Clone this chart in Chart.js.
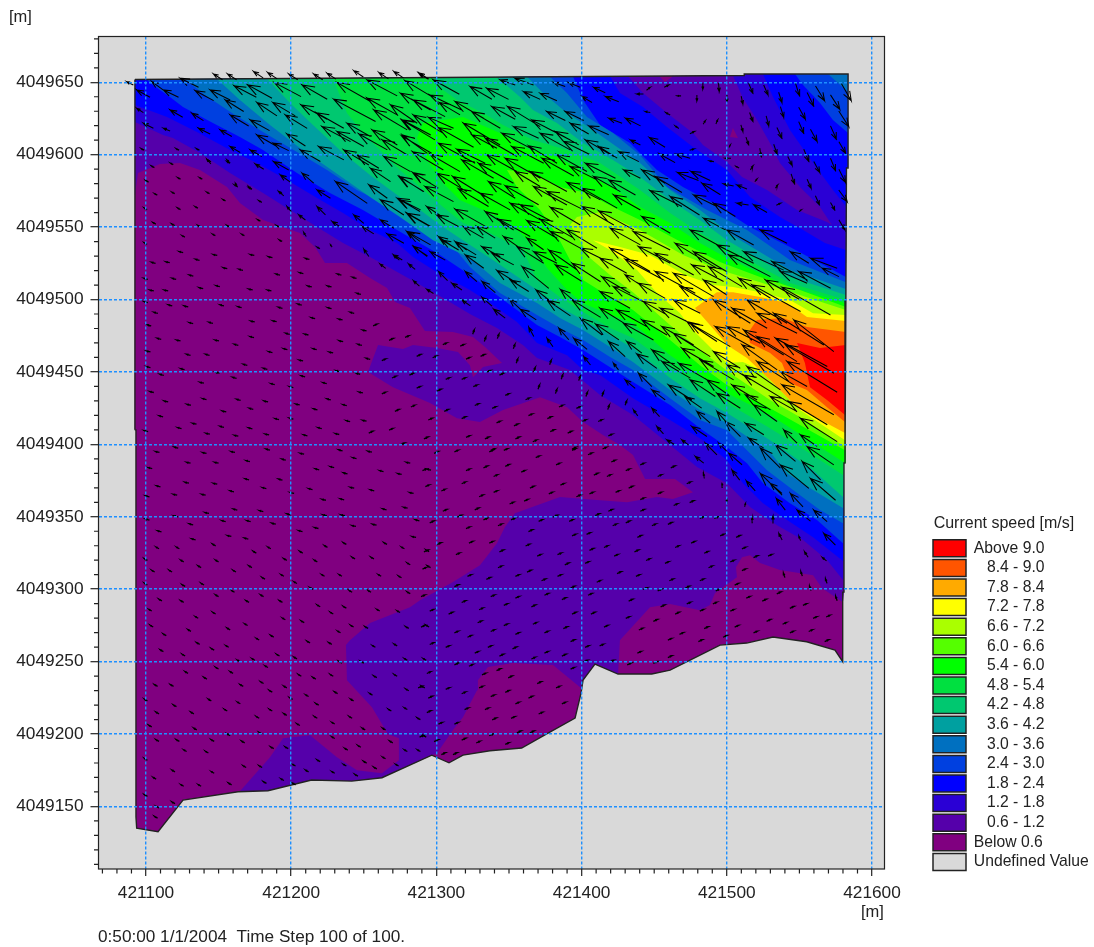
<!DOCTYPE html>
<html><head><meta charset="utf-8">
<style>html,body{margin:0;padding:0;background:#fff}canvas{display:block;filter:blur(.35px)}</style>
<script src="https://cdn.jsdelivr.net/npm/chart.js@4"></script>
</head><body><canvas id="c" width="1094" height="947"></canvas>
<script>
// All coordinates are metres, offset from these two bases
const eastBase = 421000, northBase = 4049000;
const xTickLabels = [421100,421200,421300,421400,421500,421600];
const yTickLabels = [4049150,4049200,4049250,4049300,4049350,4049400,4049450,4049500,4049550,4049600,4049650];
const legendTitle = 'Current speed [m/s]';
const bandLabels = ['Above 9.0','8.4 - 9.0','7.8 - 8.4','7.2 - 7.8','6.6 - 7.2','6.0 - 6.6','5.4 - 6.0','4.8 - 5.4','4.2 - 4.8','3.6 - 4.2','3.0 - 3.6','2.4 - 3.0','1.8 - 2.4','1.2 - 1.8','0.6 - 1.2','Below 0.6'];
const bandColors = ['#ff0000','#ff5500','#ffaa00','#ffff00','#aaff00','#55ff00','#00ff00','#00e040','#00c870','#00a0a0','#0070c0','#0040e0','#0000ff','#2a00d5','#5500aa','#800080'];
const undefinedLabel = 'Undefined Value', undefinedColor = '#d9d9d9';

const domain = [92.4,651.9, 512,654.7, 512,655.7, 583.5,655.7, 583.5,590.8, 582.4,590.8, 582,499.7, 581.4,387.1, 580.7,387.1, 580.7,298, 579.8,298, 579.8,249.9, 574.5,258, 555,263.7, 531.8,267, 513.7,262.8, 495.3,261.4, 474.7,251, 460.9,244.1, 448.3,241.4, 425.1,241.4, 409.2,248.3, 401,237.2, 399.6,228.2, 395.5,211, 376.9,200.6, 358.7,190.3, 336.9,188.4, 318.3,185.4, 308.7,180.1, 296.8,185.4, 262.5,169.8, 241.7,167.5, 214.1,168.2, 184,160.8, 163.4,160.1, 125.5,154.4, 108.3,132.5, 93.6,135, 93.1,142.8, 93.1,410, 92.2,410];

const level06 = [92.4,572.1, 94.5,587.3, 109.6,593.5, 123.4,594.2, 137.2,589.4, 155.8,577.7, 164.7,566.6, 180.6,554.9, 206,545.9, 216.4,536.2, 223.3,525.2, 238.4,525.2, 254.3,514.8, 266,507.9, 271.5,498.2, 281.8,494.1, 292.1,478.2, 311.4,477.5, 325.2,474.1, 333.5,467.2, 345.2,456.1, 332.1,453.4, 325.2,446.4, 323.1,454.7, 314.9,463.7, 300.4,466.5, 283.9,468.6, 277,465.8, 259.8,468.6, 252.9,449.9, 270.1,439.5, 295.6,428.5, 314.2,418.1, 330,415.4, 345.9,423.7, 371.4,432.6, 390,425.7, 401,415.4, 414.7,406.4, 426.4,399.5, 435.4,392.6, 443.7,376, 464.3,376, 476.7,367, 462.9,362.2, 451.9,363.6, 431.3,360.1, 410.6,361.5, 385.1,363.6, 354.1,352.5, 347.2,342.9, 341.7,331.8, 330,316.6, 311.4,304.9, 288.7,292.4, 281.8,287.6, 254.3,276.6, 240.5,264.8, 237.7,261.4, 238.4,237.2, 255.6,218.5, 266.7,199.9, 274.2,197.1, 274.2,181.9, 262.5,172.9, 245.3,175, 231.5,184, 213,199.2, 194.4,197.1, 185.4,184, 164.7,160.5, 184,160.8, 214.1,168.2, 241.7,167.5, 262.5,169.8, 296.8,185.4, 300.4,186.8, 311.4,202.7, 318.3,211.6, 328,230.3, 328.6,237.2, 335.5,246.2, 352.8,249, 380.3,247.6, 387.2,242, 399.6,231.7, 401,237.2, 409.2,248.3, 425.1,241.4, 426.4,264.8, 447.1,287.6, 460.9,289.7, 481.5,285.5, 488.4,289, 491.9,297.3, 507,308.3, 506.3,315.2, 510.5,322.1, 516,323.5, 522.9,318, 536.6,313.2, 559.4,309.7, 565.6,300.7, 580,291, 580.7,298, 580.7,387.1, 581.4,387.1, 582,499.7, 582.4,590.8, 583.5,590.8, 583.5,655.7, 512,655.7, 512,654.7, 504.2,654.6, 504.2,618.4, 507.7,611.5, 502.2,612.2, 504.2,618.4, 504.2,654.6, 462.3,654.3, 462.3,653.6, 457.4,650.2, 454,653.6, 454,654.3, 92.4,651.9];
const level12 = [92.4,622.5, 111.7,613.6, 118.6,611.5, 137.2,601.1, 157.9,587.3, 180.6,573.5, 199.2,561.8, 217.8,550, 235.7,539, 254.3,529.3, 268.1,521.7, 286.6,511.4, 304.6,501, 323.1,490, 341.7,480.3, 359.6,468.6, 369.3,459.6, 392,451.3, 412.7,434, 435.4,420.2, 460.9,399.5, 479.5,384.3, 500.1,373.2, 516,356.7, 534.6,344.2, 552.5,333.9, 569,320.1, 580,306.3, 580.7,387.1, 581.4,387.1, 582,499.7, 582.4,590.8, 583.5,590.8, 583.5,655.7, 512,655.7, 512,654.7, 504.2,654.6, 511.1,639.1, 520.8,624, 529.7,608, 536.6,594.2, 550.4,577.7, 564.2,563.8, 572.4,551.4, 569,553.5, 548.4,561.8, 527.7,575.6, 510.5,584.6, 500.1,594.9, 483.6,606.7, 476.7,615, 458.8,628.8, 442.3,642.6, 431.9,654.2, 92.4,651.9];
const level18 = [92.4,634.3, 114.5,626, 135.1,615.6, 157.9,603.2, 176.5,594.2, 197.1,582.5, 217.8,570.1, 235.7,559.7, 254.3,548, 272.9,539, 283.9,529.3, 300.4,518.9, 323.1,506.5, 336.9,497.6, 355.5,484.4, 369.3,469.9, 390,461.6, 401,451.3, 412.7,447.8, 435.4,431.9, 460.9,416.8, 483.6,402.9, 500.1,389.1, 511.1,373.2, 524.9,359.4, 541.5,347.7, 559.4,335.9, 580,319.4, 580.7,387.1, 581.4,387.1, 582,499.7, 582,534.2, 567.6,539, 552.5,548, 536.6,556.9, 516,570.8, 500.1,589.4, 476.7,605.3, 458.8,619.1, 442.3,632.9, 426.4,642.6, 419.5,654.1, 92.4,651.9];
const level18North = [524.9,655.7, 531.8,639.8, 543.5,617, 559.4,594.2, 573.1,575.6, 582.4,563.8, 582.4,590.8, 583.5,590.8, 583.5,655.7];
const level24 = [100.7,652, 102.8,649.5, 116.5,639.8, 125.5,632.9, 146.1,621.9, 164.7,612.2, 180.6,603.2, 204,587.3, 226.7,573.5, 249.4,561.8, 272.9,548, 300.4,532.1, 323.1,516.9, 339,505.1, 355.5,492.7, 369.3,482.4, 385.1,474.1, 401,465.1, 419.6,453.3, 435.4,443, 460.9,427.1, 481.5,411.2, 500.1,398.1, 513.9,387, 524.9,373.2, 543.5,359.4, 562.1,347.7, 580,331.8, 580.7,387.1, 581.4,387.1, 582,499.7, 582,515.5, 543.5,536.2, 516,550, 490.5,566.6, 469.8,577.7, 451.9,589.4, 433.3,608, 412.7,620.5, 401,637.7, 394.1,654];
const level24North = [547,655.7, 552.5,648.1, 564.2,635.7, 573.1,623.9, 583.5,615, 583.5,655.7];
const level30 = [126.9,652.2, 140.6,641.2, 161.3,627.4, 180.6,615.6, 204,601.8, 224.7,589.4, 245.3,575.6, 263.2,566.6, 286.6,552.8, 309.4,539, 323.1,522.4, 343.8,504.5, 369.3,489.3, 385.1,480.3, 401,472, 419.6,460.3, 435.4,451.3, 460.9,431.9, 481.5,416.8, 500.1,409.8, 527.7,382.2, 545.6,368.4, 564.2,354.6, 580,345.6, 580.7,387.1, 581.4,387.1, 582,499.7, 582,512, 543.5,527.2, 513.9,548, 486.4,561.8, 458.8,577.7, 440.2,599.8, 421.6,615, 403.7,626, 389.9,642.6, 378.2,653.8];
const level30North = [569.7,655.7, 583.5,643.3, 583.5,655.7];
const level36 = [148.9,652.3, 164.7,637.7, 185.4,620.5, 206,604.6, 235.7,583.9, 254.3,570.8, 274.9,556.9, 297.7,541, 323.1,528.6, 343.8,511.4, 369.3,497.6, 385.1,487.2, 401,478.9, 419.6,467.2, 435.4,456.8, 460.9,437.5, 481.5,423.7, 500.1,414.7, 529.8,394.7, 541.5,380.1, 559.4,368.4, 580,356, 580.7,387.1, 581.4,387.1, 582,499.7, 582,507.2, 543.5,520.3, 505.6,543.1, 481.5,561.8, 460.9,575.6, 440.2,594.2, 424.4,605.3, 407.9,617, 389.9,628.8, 373.4,642.6, 362.4,653.8];
const level42 = [183.3,652.6, 199.2,635.7, 215,620.5, 235.7,601.1, 254.3,586, 274.9,570.8, 288.7,561.8, 304.6,550, 321.1,539, 336.9,528.6, 354.1,516.9, 369.3,506.5, 385.1,494.8, 401,485.8, 419.6,475.5, 435.4,466.5, 460.9,445.8, 481.5,431.9, 500.1,421.6, 529.8,402.9, 559.4,382.2, 580,363.6, 580.7,387.1, 581.4,387.1, 582,499.7, 582,503.1, 543.5,515.5, 500.1,541, 481.5,554.9, 460.9,568.7, 440.2,584.6, 421.6,596.3, 401,608, 383,621.9, 366.5,630.8, 357.6,639.8, 341.7,653.6];
const level48 = [228.8,652.8, 238.4,628.8, 249.4,615, 274.9,589.4, 288.7,577.7, 304.6,563.8, 318.3,552.8, 336.9,545.9, 359.6,534.2, 369.3,513.4, 385.1,501.7, 401,491.3, 419.6,480.3, 435.4,473.4, 460.9,454.7, 481.5,439.5, 500.1,428.5, 529.8,411.2, 550.4,398.1, 580,378.8, 580.7,387.1, 581.4,387.1, 582,499.6, 543.5,511.4, 500.1,535.5, 481.5,545.9, 460.9,559.7, 440.2,575.6, 412.7,594.2, 389.9,603.2, 366.5,610.1, 345.9,620.5, 332.1,628.8, 314.2,637.7, 304.6,644.6, 297,653.3];
const level54 = [286.6,611.5, 293.5,596.3, 304.6,580.4, 316.2,568.7, 332.1,561.8, 350.7,552.8, 366.5,537.6, 376.2,521.7, 390,506.5, 401,497.6, 419.6,489.3, 435.4,483.7, 460.9,461.6, 481.5,447.8, 500.1,435.4, 529.8,420.2, 581.4,387.1, 582,497.5, 543.5,508.6, 500.1,528.6, 481.5,539, 460.9,552.8, 440.2,563.8, 421.6,577, 398.9,589.4, 383,598.4, 364.5,603.2, 343.8,615, 318.3,626, 290.8,621.9];
const level60 = [348.6,589.4, 355.5,577.7, 371.4,561.8, 383,544.5, 392,527.2, 401,513.4, 419.6,501.7, 435.4,492.7, 460.9,472, 481.5,454.7, 500.1,440.9, 529.8,425, 550.4,413.3, 581.4,396, 582,494.8, 550.4,506.5, 522.9,515.5, 495.3,525.9, 469.8,539, 440.2,554.9, 421.6,563.8, 403.7,573.5, 385.1,577.7, 366.5,587.3];
const level66 = [392,551.4, 396.8,544.5, 405.8,528.6, 419.6,516.9, 435.4,505.1, 460.9,482.4, 481.5,465.1, 502.2,449.2, 529.8,430.6, 553.9,416.8, 581.4,398.1, 582,492.7, 550.4,503.1, 522.9,512, 495.3,520.3, 469.8,530.7, 440.2,548, 412.7,560.4, 396.8,556.9];
const level72 = [407.8,541, 419.6,534.2, 438.2,520.3, 451.9,504.5, 467.8,490.6, 474.6,481, 490.5,465.1, 500.1,456.1, 511.1,456.8, 522.9,451.3, 536.6,437.5, 550.4,423.7, 581.4,402.9, 582,489.3, 559.4,490.6, 543.5,499.6, 522.9,505.1, 504.3,508.6, 490.5,510, 471.2,516.9, 447.1,530.7, 426.4,536.2];
const level78 = [478.1,494.1, 493.2,505.1, 504.3,505.1, 522.9,501.7, 541.5,497.6, 555.2,487.9, 582,485.1, 581.4,407.8, 548.3,425.7, 529.8,444.4, 513.9,459.6, 500.1,468.6, 497.4,472];
const level84 = [517.4,481, 520.8,485.8, 538.7,487.2, 555.2,481, 582,477.5, 581.4,415.4, 569,425.7, 555.2,437.5, 543.5,442.3, 538,456.1, 529.8,463, 516,469.9, 514.6,476.8];
const level90 = [548.4,469.9, 564.2,466.5, 582,468.6, 581.4,420.2, 569,430.6, 557.3,439.5, 555.2,449.2, 553.8,456.1];
const bandRings = [[level90],[level84],[level78],[level72],[level66],[level60],[level54],[level48],[level42],[level36],[level30,level30North],[level24,level24North],[level18,level18North],[level12],[level06],[domain]];

// Large arrows: head east, head north, east component, north component (m)
const arrowsNorthWest = [86.7,650.4,-4.6,2.3, 146.5,655.7,-6.2,4, 156.2,655.7,-6.2,4, 174.1,657.4,-6.6,4.4, 183.8,656.7,-6.6,4.4, 198.3,655.7,-6.2,4, 215.5,655.7,-6.2,4, 224.7,656.2,-6.2,4, 243.1,658,-6.6,4.4, 260.4,656.7,-6.6,4.4, 270.7,657.4,-6.6,4.4, 288.6,656.2,-6.2,4,
93.6,644.7,-9.2,5.1, 104,650.4,-8,5.8, 112,644.7,-10.4,5.1, 123.5,652.8,-12.7,6.2, 93.6,632,-4.6,3, 116.6,630.9,-8.7,5.1, 131.6,628.6,-8,5.1, 133.9,644.2,-12.7,6.9, 144.2,644.7,-13.8,6.9, 154.6,637.8,-12.7,8, 160.8,647.5,-15.2,7.8, 170,648.2,-16.8,9.2, 188.4,649.8,-18.4,9.7, 207.5,648.2,-17.3,9.9, 98.2,621.7,-6.9,3.5, 112,618.2,-4.6,1.8, 136.2,618.2,-8,3.9, 151.1,617.1,-8,4.6, 158,627.4,-12.7,7.6, 171.8,624,-13.3,7.4, 176.4,636,-13.8,9.2, 187.4,636,-15.4,9.2, 206.8,634.4,-17.9,9.9, 217.3,629,-18.9,10.8, 229.3,638.3,-28.8,15.4, 252.3,639,-20.7,11.5, 231.6,649.8,-23,13.1, 252.3,651.6,-20.7,11, 275.3,642.4,-20.7,11.5, 158,605.6,-6.9,4.1, 171.8,603.3,-8,4.6, 176.4,613.6,-13.8,8, 187.9,607.9,-10.4,5.1, 197.1,614.3,-12.7,8.3, 196,627.4,-15,9.2, 221.3,619.4,-19.6,10.4, 231.6,616,-18.4,10.4, 246.6,614.3,-19.6,11, 255.8,617.1,-17.3,10.4, 256.9,630.9,-23,13.8, 268.4,634.4,-18.4,12.7, 276.5,624,-19.6,10.4, 276.5,613.6,-17.3,12.7, 238.5,621.7,-16.1,9.2, 219,605.6,-17.3,9.2, 206.3,603.3,-13.8,8, 236.2,603.3,-17.3,10.4, 245.4,599.8,-15,9.2, 262.7,610.2,-17.3,10.4, 254.6,590.6,-13.8,9.2, 263.8,598.7,-18.4,10.4, 274.2,584.9,-17.3,10.4, 284.5,587.2,-11.5,6.9, 187.9,595.2,-10.4,5.8, 175.3,593.6,-5.8,3.7, 155.7,596.4,-2.3,2.3, 141.9,596.9,-2.8,3.2, 161.5,580.3,-1.6,2.8, 170.7,578,-2.3,1.8, 192.5,586,-7.4,5.3, 207.5,587.2,-8,6.9, 217.8,575.7,-9.2,5.8, 230.5,581.4,-21.9,15, 261.5,568.8,-16.1,10.4, 253.5,579.1,-12.7,9.2, 273,569.9,-16.1,8, 279.9,559.6,-16.1,9.2, 191.4,574.6,-3.5,3, 197.1,564.2,-3,3.5, 217.8,564.2,-5.8,5.8, 205.2,558.4,-4.6,3.5, 243.1,558.4,-6.9,5.8, 248.9,550.4,-8,5.1, 228.2,553.9,-6.9,4.6, 261.5,555,-9.2,5.8, 266.1,545.3,-11.5,6.4, 279.9,546.9,-16.1,9.2, 284.5,536.6,-9.2,6.9, 250,534.8,-3.5,5.1, 270.7,530.8,-5.8,3.5, 208.6,546.3,-1.8,2.8, 227,537.8,-1.2,1.6];
const arrowsNorthCentre = [287.6,656.6,-6.6,4.4, 278.4,651.1,-18.4,11, 297.9,651.6,-17.9,9.9, 295.6,641.2,-21.9,10.4, 323.2,647,-15,8.7, 334.7,645.8,-15,7.6, 343.9,651.6,-10.4,3.5, 354.2,652.7,-12.7,4.6, 380.7,649.8,-8,2.8, 391,649.8,-8,3.2, 360,643.5,-11.5,5.3, 371.5,642.4,-11.5,5.1, 312.9,636.7,-19.6,11.5, 324.4,629.7,-19.6,11.5, 338.2,633.2,-16.1,8.7, 349,633.2,-22.5,13.8, 365.7,624,-26.5,13.8, 302,636,-14.3,8.5, 284.1,637.8,-21.9,11.5, 376.1,629.8,-12.7,6.2, 388.8,629.8,-12.7,6.2, 392.2,621.7,-12.7,7.4, 404.9,619.9,-13.8,6.2, 408.3,646.5,-8,3.7, 416.4,640.1,-9.2,3.5, 418.7,625.2,-9.2,3.5, 430.2,625.2,-10.4,5.3, 400.3,640.1,-6.9,4.1, 318.6,621.7,-25.3,15, 294.5,625.8,-17.3,7.6, 284.1,627.4,-20.7,12.7, 276,624,-23,13.8, 301.4,618.7,-24.2,13.6, 324.4,613.7,-17.3,9.2, 333.6,611.4,-21.9,12.7, 345.1,614.8,-21.9,11.5, 353.1,619.4,-17.3,8, 371.5,614.8,-20.7,11.5, 381.9,616,-16.1,9.2, 387.6,609.1,-18.4,9.2, 402.6,610.2,-19.6,11.5, 411.8,605.6,-12.7,8, 433.6,610.2,-6.9,3.5, 425.6,602.1,-13.8,6.9, 276,613,-20.7,12, 283.6,602.1,-21.2,12.7, 301.4,607.9,-25.3,13.8, 314,603.8,-19.6,9.7, 295.6,600.3,-20.7,12, 317.5,596.4,-21.9,12.7, 328.9,594.1,-24.2,13.8, 334.7,599.9,-20.7,11.5, 347.4,597.5,-24.2,13.8, 352,605.6,-21.9,11.5, 363.5,606.1,-19.6,12, 383,599.9,-20.7,11.5, 372.7,597.5,-21.9,12.2, 392.2,591.8,-18.4,9.2, 402.6,594.1,-20.7,10.4, 408.3,584.9,-18.4,10.4, 418.7,582.6,-18.4,10.4, 429,589.5,-11.5,5.8, 274.9,584.9,-16.1,10.4, 283.6,587.7,-17.7,10.8, 300.2,587.2,-20.7,12.7, 311.2,584.9,-22.3,13.8, 292.2,578,-19.6,10.4, 315.2,576.4,-20.7,12.2, 330.1,573.4,-20.7,11.5, 335.9,581.4,-18.4,11.5, 354.2,588.4,-17.3,10.4, 364.6,588.4,-25.3,13.8, 347.4,578.5,-23,13.1, 366.9,578,-23,12.7, 376.1,574.6,-25.3,12.7, 389.9,580.8,-23,12, 400.3,576.9,-24.2,13.8, 422.1,572.2,-18.4,10.4, 350.8,566.5,-20.7,11.5, 357.7,565.4,-21.9,11.5, 378.4,563.7,-20.7,12.2, 400.3,564.2,-21.9,12.7, 411.8,561.2,-24.2,13.1, 274.9,568.8,-13.8,8, 293.3,564.2,-10.4,6.9, 300.2,558.4,-15,8, 312.9,562.4,-23,13.1, 333.6,560.7,-19.6,12.7, 342.7,555.5,-21.9,12, 362.3,554.5,-20.7,12.2, 371.5,555.5,-23,13.1, 378.4,547,-20.7,11.5, 389.9,548.1,-20.7,12.7, 419.8,549.2,-20.7,11.5, 279.5,559.6,-16.1,9.2, 318.6,550.4,-13.8,8, 327.8,550.4,-12.7,8, 279.5,547,-9.2,6.9, 301.4,543.5,-11.5,8, 312.9,540,-8,5.8, 346.2,543.5,-11.5,8, 362.3,542.4,-11.5,8];
const arrowsCentre = [270.4,530.7,-4.1,3.5, 261.2,524.5,-3.9,3, 280.8,524.5,-4.6,3.7, 284.2,536.5,-9.7,6.4, 295.7,533,-10.4,5.8, 303.8,541.1,-11.5,6.9, 313.6,539.3,-13.8,8.5, 319.9,530.8,-12.7,9.2, 331.3,536.5,-12.7,6.9, 338.3,531.9,-15,8, 355.5,536.5,-18.4,11.5, 367,533,-16.1,8, 377.4,534.2,-19.6,13.8, 359,522.7,-18.4,15, 381.9,523.9,-18.4,11.5, 393.5,525,-19.6,12.7, 399.2,535.4,-16.1,8, 301.5,519.3,-6.2,6.2, 319.9,519.3,-8,6.9, 341.7,520,-13.8,8.7, 350.9,513.5,-12.7,8, 284.2,513,-4.1,3.7, 310.7,511.2,-6.9,4.6, 331.4,512.4,-9.2,7.6, 293.4,507,-4.6,2.8, 368.6,506.6,-13.3,10.4, 317.6,499.7,-5.8,4.1, 331.4,501.5,-6.9,6, 350.4,500.2,-8.5,7.8, 385.4,507,-11.5,9.7, 376.2,499.7,-16.1,11, 393.5,499.7,-19.6,12, 357.8,493.3,-11,7.4, 339.4,493.3,-8,6.2, 399.2,487,-15,11.5, 409.6,483.1,-16.1,11, 384.3,480.2,-6.9,8, 363.6,480.8,-3.5,6.4, 376.2,473.2,-4.1,5.8, 394.6,473.2,-9.2,7.6, 401.5,460.6,-4.6,5.8];
const arrowsRidge = [435.7,546.9,-25.3,12.7, 474.8,548,-25.3,13.8, 500.1,548,-18.4,10.4, 523.1,548,-18.4,9.2, 419.6,535.4,-27.6,16.1, 430,527.8,-26.5,14.3, 439.2,536.5,-21.9,11.5, 450.7,531.9,-26.5,15, 464.5,538.8,-28.8,17.3, 477.1,533,-23,13.8, 493.2,537.7,-25.3,12.7, 511.6,533,-27.6,12.7, 501.2,530.8,-28.8,15, 531.2,526.2,-24.2,12.7, 536.9,519.3,-18.4,8, 543.8,533,-12.7,8, 549.6,519.3,-21.9,11.5, 557.6,528.5,-18.4,6.9, 565.7,521.6,-11.5,5.8, 412.7,528.5,-18.4,10.4, 413.9,515.8,-19.6,11.5, 430,517,-10.4,6.9, 450.7,519.3,-27.6,15, 463.3,518.1,-27.6,16.1, 439.2,511.2,-18.4,10.4, 475.9,523.9,-21.9,11.5, 487.5,522.7,-23,13.8, 467.9,508.9,-18.4,10.4, 484,513.5,-16.1,10.4, 508.2,514.7,-21.9,13.8, 517.4,510.1,-33.4,18.4, 526.6,513.5,-24.2,13.8, 538,508.4,-33.4,19.1, 421.9,508.9,-20.7,10.4, 412.7,505.5,-20.7,11.5, 442.6,498.6,-16.1,9.2, 454.1,494,-18.4,9.2, 463.3,499.7,-18.4,9.2, 472.5,484.8,-20.7,13.8, 490.9,499.7,-25.3,16.1, 503.6,494,-24.2,13.8, 513.9,499.7,-27.6,16.1, 520.8,490.5,-27.6,13.8, 532.3,490.5,-34.5,21.9, 546.1,485.9,-27.6,21.9, 412.7,494,-18.4,11.5, 424.2,492.8,-20.7,11.5, 428.8,483.6,-20.7,11.5, 441.5,485.9,-17.3,10.4, 455.3,481.3,-21.9,12.7, 463.3,476.7,-25.3,16.1, 474.8,483.6,-27.6,16.1, 492,481.3,-26.5,15, 500.1,481.3,-23,11.5, 511.6,479,-27.6,17.3, 520.8,474.4,-27.6,17.3, 533.5,473.3,-35.7,19.6, 540.4,468.7,-33.4,19.6, 541.5,457.2,-34.5,21.2, 510.5,468.7,-24.2,17.3, 520.8,457.2,-25.3,16.1, 536.9,450.3,-18.4,10.4, 538,441.1,-35.7,20.7, 513.9,453.7,-23,16.1, 490.9,464,-18.4,11.5, 481.7,458.3,-23,13.8, 500.1,454.9,-16.1,10.4, 511.6,447.9,-32.2,19.6, 448.4,465.2,-19.6,13.8, 469,466.4,-21.9,12.7, 455.3,457.2,-19.6,11.5, 466.8,456,-19.6,11.5, 418.5,471,-11.5,10.4, 431.1,471,-10.4,8, 438,462.4,-13.8,9.9, 503.6,441,-17.3,10.4, 530,433,-18.4,10.4, 542.7,429.6,-26.5,16.1, 550.7,418,-25.3,16.1, 474.8,444.5,-17.3,11.5, 486.3,444.5,-15,10.4, 493.2,435.3,-16.1,10.4, 459.9,441,-16.1,10.4, 439.2,449.1,-9.2,9.2, 448.4,437.6,-9.2,6.9, 430,444.5,-6.9,5.8, 421.9,456,-3.5,4.6, 471.2,433,-11.5,8, 512.8,434.2,-17.3,10.4, 518.5,427.3,-16.1,11.5, 539.2,410,-9.2,9.2, 550.7,406.6,-11.5,8, 555.3,398.5,-18.4,12.7, 479.4,422.7,-9.2,8, 493.2,422.7,-9.2,10.4, 499,415.8,-10.4,10.4, 512.8,414.6,-12.7,8, 515,404.3,-10.4,6.9, 523.1,397.4,-13.8,13.8, 533.5,399.7,-13.8,11.5, 551.9,388.2,-12.7,12.7, 475.9,412.3,-10.4,6.9, 485.2,400.8,-8,8, 494.4,400.8,-5.8,5.8, 501.3,393.9,-9.2,8, 478.3,391.6,-5.8,4.6, 448.4,425,-5.3,5.8, 435.7,423.8,-3,4.1, 451.8,412.3,-4.6,5.1, 458.7,403.1,-5.8,3.5, 469,403.1,-4.6,3.5,
530,373,-8,6.9, 513.4,374.8,-6.2,6.9, 543.8,366.1,-8.7,9.2, 534.1,362.6,-6.2,8, 548.4,354.6,-9.2,7.6, 559.9,354.6,-9.2,8, 557.6,376.4,-17.3,15, 523.1,379.9,-15,15, 566.8,338.5,-8,8, 535.8,338.5,-2.3,4.6, 549.6,336.7,-1.2,3.2, 553.5,325.9,-2.5,3.9, 565.7,321.9,-3,2.3, 503.6,382.2,-5.3,6.9, 536.9,385.7,-19.6,16.1, 484,379.9,-0.5,3.5, 496.7,373,-0.5,2.8, 512.8,359.2,0.5,2.3, 517.4,349.5,-0.5,3.7, 531.8,350.5,0,5.1, 500.1,362,0.5,2.8];
const arrowsNorthEast = [483.5,645.2,0,-4.1, 494.8,643.6,0.5,-5.8, 518,642.4,3,-6.9, 528.4,641.2,3,-6.9, 538,636,2.3,-7.1, 550,640.6,2.8,-9.2, 559.9,633.7,4.6,-9.2, 567.3,637.3,6.2,-10.1, 577.8,631.4,6.4,-9.9, 585.7,637.3,6.9,-12, 539.2,625.8,2.3,-7.4, 554.1,624.5,4.6,-8.3, 584,619.4,6.9,-10.8, 518,622.9,2.3,-6.2, 528.9,619.9,1.8,-6.9, 511.1,616,1.4,-4.6, 511.1,635,1.2,-5.5, 479.4,637.1,0,-4.1, 500.1,636.6,0,-4.6, 553,614.8,3.5,-8, 562.2,609.1,4.6,-8.5, 575.5,610.7,4.1,-9.2, 581.8,601,4.6,-8, 538,611.4,3.5,-7.4, 523.6,598.7,0.9,-5.8, 515,606.8,1.8,-5.3, 534.6,600.5,2.3,-6.7, 556.5,595.3,3.5,-8.5, 545,592.5,3,-6.2, 574.9,589,3.5,-8.5, 564,587.7,4.1,-7.6, 581.8,580.8,4.6,-9.2, 546.6,579.8,2.3,-6.9, 558.1,576.8,2.8,-6.2, 563.8,565.4,2.8,-6.2, 582.9,567.6,5.8,-8, 574.4,561.9,3,-5.1, 581.3,548.1,4.1,-6.9,
465.1,600.3,-9.7,2.8, 453.6,600.5,-10.8,6, 446.7,611.8,-10.8,6.7, 441.5,589.5,-16.1,9.2, 450.7,584.9,-18.4,11, 466,587.7,-14.5,5.5, 475.3,588.4,-13.3,6.2, 482.9,580.3,-12.7,8, 447.2,575.2,-21.9,11, 461,571.1,-20.2,12.7, 477.1,572.2,-16.1,8, 490.9,566.5,-15,9.2, 484,556.1,-15,8, 441.5,557.3,-19.6,11.5, 497.8,579.8,-6.9,1.4, 507,579.1,-6.9,2.8, 507,566.5,-8,1.2, 518.5,565.4,-9.2,5.3, 443.8,629.8,-3.5,0.7, 458,629,-3,1.6, 438,641.9,-4.6,0, 466,640.6,-2.5,0, 485.2,623.5,1.5,2.5, 493.7,624,1.2,2.8, 477.6,616,3,1.5, 464.5,619.8,-2.5,1.7, 502.4,606.8,0.8,1.8, 447.2,646.5,2.5,2, 459.9,648.1,3,1.6, 477.4,604,3,1, 488.1,595.7,-3,0.5, 498.9,597.6,-4,0, 506.5,591.8,-2,1, 518,592.3,1.8,2.8, 520.8,583.3,1.5,2, 535,579.1,1.5,2.2, 536.9,566.5,2.8,1.4, 551.2,561.9,1.4,1.2];

// Small arrows, slow water: head positions with the direction read for each zone
const slowNorthWest = [97,604,121,604,135,604,143,596,156,595,117,594,104,592,122,584,137,584,100,582,106,573,118,574,142,574,153,569,161,579,171,577,178,568,192,574,134,564,122,563,99,563,105,553,118,552,136,551,146,545,125,544,156,551,177,555,190,551,99,539,192,541,166,545,218,536];
const slowNorthWestVector = [-1.8,0.9];
const slowWest = [123,533,146.5,531,172,531,184.5,529.5,210,528.3,104,525.6,113.8,526,134.3,527.7,153.4,521.9,164.2,520.8,130,516.8,118.2,514.5,98.7,514.5,189.7,517.5,205.8,518.5,232,517.5,242.4,515.2,102.8,506.5,112.7,506.5,136.8,508.1,148.3,509.5,170.9,507.2,183.8,506.5,211.6,509.3,225.2,509.3,245.4,504.2,98.7,498.5,115.5,496.2,126.5,495.5,151.1,496.2,163.3,495,191.4,494.5,204.7,496.8,225.2,494.3,240.8,491.1,105.6,491.1,129.9,484,143.5,484.2,172.3,485.1,187.4,485.3,213.9,487.4,232.8,486.5,101,482.4,107.9,473.1,121.2,472,147.7,472,171.8,474.3,196.4,476.6,209.3,476.1,249.3,478.9,233.2,471.5,161,469,100.5,464.4,128.1,462.1,141.2,462.1,184.5,464,194.8,466,215,466,226.3,463.7,246.1,469,167.2,455.2,205.6,458.2,251.8,459.3,100.5,453.6,124,452.2,148.1,449.7,109.7,448.3,159.8,446.2,181,452.4,231.1,450.8,244.9,449,207,447.2,137.3,442.8,186.1,441.9,221.9,442.6,198.9,439.8,102.8,436.4,246.8,436.1,139.1,431.5,162.6,431,112.7,429.9,181.5,429.9,224.7,431.3,128.3,427.6,203.3,427.8,235.7,427.4,171.3,424.8,152.7,423,215.5,424.4,109.2,419.6,189,417.7,198.9,418,238,416.3,249.3,416.6,121.9,411.5,132.2,414.5,151.1,412.4,170.7,411.3,218.5,411.5,98.9,409.4,141.4,407.6,161,406.2,182.2,407.1,208.6,406.5,230.5,407.4,106.7,395,119.6,398,139.1,394.3,158.7,395,182.8,396.6,206.3,393.8,232.8,396.1,253,395.2,128.1,387.6,147.4,387.6,169,388.7,193.7,389.7,242.4,390.8,279.4,387.6,101.7,383.9,216.7,383,227,384.6,261,381.8,293.7,382.8,127,373.8,146.5,373.1,236.2,380.2,273.5,379.8,168.4,376.1,191.4,375.9,107.4,371.3,180.3,370.1,212.1,369.4,240.8,370.3,254.6,368.5,118.9,365.5,138.5,365.5,99.8,364.4,158,367.8,199.4,366.7,221.3,362,233.9,362.3,281.7,366.7,263.1,355.4,277.6,356.5,160.3,355.2,178.2,354.2,140.8,352.9,197.1,351.9,119.4,350.6,222,351.3,234.4,351.3,99.8,348.3,129.9,345,152.3,347.3,169.5,347.3,186.8,345.5,242,343.9,256.2,344.8,285.7,347.8,108.1,340.2,205.2,340.4,216.2,342.5,131.6,334.7,156.2,337,167.9,335.2,283.4,336.3];
const slowWestVector = [-2.6,0.6];
const slowSouthWest = [107,329,121,329,146,331,174,326,184,329,206,326,223,330,236,332,264,332,276,329,293,327,99,321,124,320,148,320,171,316,195,321,216,320,242,322,255,322,280,318,104,313,116,313,136,316,160,313,193,310,221,310,233,310,260,310,274,309,294,316,99,304,125,303,138,304,180,308,202,305,159,299,179,296,240,299,253,299,213,301,280,298,109,293,124,292,148,296,169,292,192,292,218,289,236,288,259,286,273,285,102,286,146,284,134,281,194,280,227,284,207,278,168,276,241,275,251,274,103,275,129,272,156,273,232,271,279,274,293,275,112,269,176,266,186,268,211,264,226,263,256,261,271,262,135,263,145,259,155,261,110,258,125,255,190,255,202,253,173,252,163,251,233,250,248,250,278,252,291,252,148,246,182,247,127,243,158,243,205,241,215,239,227,241,257,240,271,241,140,239,165,234,179,236,106,234,117,234,195,233,185,230,254,228,279,231,290,233,230,229,210,227,99,224,143,224,163,222,199,225,241,224,217,221,119,220,154,217,176,212,185,217,267,217,278,218,131,215,195,214,216,212,240,212,287,211,107,215,102,206,133,204,204,207,228,208,249,204,263,204,156,200,178,201,228,198,107,196,121,196,291,199,145,196,166,195,268,195,196,191,186,191,126,189,141,188,237,190,246,192,278,189,287,189,99,183,167,178,201,179,218,182,236,179,250,181,263,184,118,175,178,178,210,175,145,174,228,174,257,177,272,179,105,170,244,172,181,167,193,169,124,165,136,165,157,166,99,158,201,166,107,150,118,153,106,143];
const slowSouthWestVector = [-2,1.1];
const slowSouth = [301,395,315,396,339,396,349,397,371,392,396,397,407,394,335,385,350,386,385,387,293,383,323,383,342,379,361,382,411,380,295,372,320,374,306,369,332,365,342,368,367,371,388,373,380,367,399,365,408,367,353,360,363,362,329,356,307,355,317,351,335,349,354,349,373,348,383,351,394,348,412,352,298,347,345,345,323,343,366,341,396,338,406,339,325,333,339,333,303,332,364,331,408,328,294,327,346,327,316,325,372,324,386,325,293,315,345,316,391,318,405,319,324,310,365,313,357,310,386,310,375,307,337,308,315,303,413,306,395,302,292,296,340,296,357,295,377,297,389,294,407,297,320,292,349,290,368,289,298,286,311,284,332,287,396,284,409,284,292,275,331,278,349,276,369,277,390,274,315,271,324,268,340,272,357,270,377,271,395,265,405,261,298,263,309,261,329,257,338,261,355,260,377,257,389,255,368,253,346,255,315,249,325,248,404,251,296,243,344,245,352,240,372,236,334,242,395,246,332,233,385,233,290,233,309,232,350,230,320,229,340,227,366,226,357,222,322,218,336,218,297,226,389,222,296,216,304,208,354,212,341,211,373,215,315,208,339,200,358,202,291,199,301,196,320,197,330,195,367,202,350,194,306,187,314,187,
423,389,443,387,433,383,420,379,455,379,464,385,475,374,435,371,426,368,455,367,443,363,466,359,477,361,421,355,443,355,424,345,433,347,451,345,462,346,484,350,494,350,498,338,509,337,441,337,467,330,478,333,418,330,439,327,487,326,425,324,447,321,460,319,490,316,505,320,513,329,521,323,531,324,427,312,440,310,463,307,484,307,513,314,508,304,445,301,455,300,474,302,495,300,435,293,457,289,475,291,493,291,516,295,527,293,537,298,484,286,505,286,433,281,452,279,467,284,418,275,442,273,470,270,487,274,508,275,521,271,541,277,546,271,462,266,483,265,500,268,559,272,562,281,571,282,570,265,415,262,441,257,462,254,422,251,434,249,452,250,546,288,555,290,530,279,
259,483,270,473,281,475,307,470,319,469,323,460,333,462,289,462,300,461,265,459,272,447,284,449,309,446,320,446,337,451,346,449,328,441,289,440,303,438,265,436,350,435,364,432,329,428,341,426,308,424,285,427,274,424,387,427,399,426,320,419,297,418,366,421,379,419,403,417,414,417,344,416,356,414,256,409,270,411,381,410,393,409,294,405,323,406,336,405,357,405,369,403,421,407,278,401,396,398,417,398,340,397,349,397];
const slowSouthVector = [2.6,1.2];
const slowBand = [326,479,334,474,343,476,354,469,356,459,368,453,379,458,387,448,399,447,415,436,404,436,371,441,383,438,419,427,431,430];
const slowBandVector = [1,3];
const slowEast = [539,311,551,312,557,302,568,307,575,295];
const slowEastVector = [-1,3];

const toPoint = (x, y) => ({x: eastBase + x, y: northBase + y});
function ringPoints(flat){
  const pts = [];
  for (let i = 0; i < flat.length; i += 2) pts.push(toPoint(flat[i], flat[i+1]));
  return pts;
}
const gap = {x: null, y: null};
function bandPoints(rings){
  const out = [];
  rings.forEach((r, i) => { if (i) out.push(gap); out.push(...ringPoints(r)); });
  return out;
}
function arrowPath(out, x, y, u, v){
  const len = Math.hypot(u, v);
  if (!len) return;
  const ux = u / len, uy = v / len;
  const h = Math.min(len * 0.46, 8.5);
  const w = h * 0.38;
  const bx = x - ux * h, by = y - uy * h;
  out.push(toPoint(x - u, y - v), toPoint(x, y), toPoint(bx - uy * w, by + ux * w), toPoint(x, y), toPoint(bx + uy * w, by - ux * w), gap);
}
const arrowPoints = [];
[arrowsNorthWest, arrowsNorthCentre, arrowsCentre, arrowsRidge, arrowsNorthEast].forEach(t => {
  for (let i = 0; i < t.length; i += 4) arrowPath(arrowPoints, t[i], t[i+1], t[i+2], t[i+3]);
});
const slowPoints = [];
[[slowNorthWest, slowNorthWestVector],[slowWest, slowWestVector],[slowSouthWest, slowSouthWestVector],[slowSouth, slowSouthVector],[slowBand, slowBandVector],[slowEast, slowEastVector]].forEach(([t, d]) => {
  for (let i = 0; i < t.length; i += 2) arrowPath(slowPoints, t[i], t[i+1], d[0], d[1]);
});

const bandDatasets = bandLabels.map((label, i) => ({
  type: 'line', label, data: bandPoints(bandRings[i]), fill: 'shape',
  backgroundColor: bandColors[i], borderColor: 'transparent', borderWidth: 0, pointRadius: 0, tension: 0, spanGaps: false
}));
const outline = ringPoints(domain); outline.push(outline[0]);
const datasets = [
  {type:'line', label:'Velocity', data: arrowPoints, borderColor:'#000', borderWidth:1.05, pointRadius:0, fill:false, tension:0, spanGaps:false},
  {type:'line', label:'Slow velocity', data: slowPoints, borderColor:'#000', borderWidth:1.3, pointRadius:0, fill:false, tension:0, spanGaps:false},
  {type:'line', label:'Domain', data: outline, borderColor:'#222', borderWidth:1.4, pointRadius:0, fill:false, tension:0},
  ...bandDatasets
];

const font = 'Liberation Sans, Arial, sans-serif';
const gridBlue = '#1e90ff';
const frame = {
  id: 'frame',
  afterLayout(chart){
    const l = chart.legend;
    l.left = 930.4; l.right = 1094; l.width = 147;
    l.top = 515; l.bottom = 880; l.height = 365;
  },
  beforeDraw(chart){
    const {ctx, chartArea:a} = chart;
    ctx.save(); ctx.fillStyle = undefinedColor;
    ctx.fillRect(a.left, a.top, a.width, a.height); ctx.restore();
  },
  afterDraw(chart){
    const {ctx, chartArea:a, scales:{x, y}} = chart;
    ctx.save();
    ctx.strokeStyle = '#222'; ctx.lineWidth = 1.2;
    ctx.strokeRect(a.left, a.top, a.width, a.height);
    ctx.beginPath();
    x.ticks.forEach(t => { if (t.value % 100) { const p = x.getPixelForValue(t.value); ctx.moveTo(p, a.bottom); ctx.lineTo(p, a.bottom + 4.5); } });
    y.ticks.forEach(t => { if (t.value % 50) { const p = y.getPixelForValue(t.value); ctx.moveTo(a.left, p); ctx.lineTo(a.left - 4.5, p); } });
    ctx.stroke();
    ctx.fillStyle = '#222'; ctx.textBaseline = 'middle'; ctx.textAlign = 'left';
    ctx.font = '16.5px ' + font;
    ctx.fillText('[m]', 9, 17);
    ctx.fillText('[m]', 861, 912);
    ctx.font = '17.2px ' + font;
    ctx.fillText('0:50:00 1/1/2004  Time Step 100 of 100.', 98, 937);
    ctx.restore();
  }
};
const tickList = (from, to, step) => { const v = []; for (let t = from; t <= to; t += step) v.push({value: t}); return v; };

new Chart(document.getElementById('c'), {
  type: 'line',
  data: {datasets},
  plugins: [frame],
  options: {
    responsive: false, animation: false, events: [],
    layout: {padding: {left: 0, top: 36.5, right: 209.5, bottom: 0}},
    scales: {
      x: {type:'linear', min:421067.3, max:421608.6,
        afterFit: s => { s.height = 78; },
        afterBuildTicks: s => { s.ticks = tickList(421070, 421600, 10); },
        border:{display:false, dash:[3,2]},
        grid:{z:1, tickLength:7, color:c => c.tick && c.tick.value % 100 === 0 ? gridBlue : 'transparent', lineWidth:1.4, tickColor:c => c.tick && c.tick.value % 100 === 0 ? '#222' : 'transparent', tickBorderDash:[], tickWidth:1.2},
        ticks:{autoSkip:false, maxRotation:0, minRotation:0, padding:7, color:'#222', font:{family:font, size:17.3},
          callback: v => xTickLabels.includes(v) ? String(v) : ''}
      },
      y: {type:'linear', min:4049106.8, max:4049681.6,
        afterFit: s => { s.width = 98.5; },
        afterBuildTicks: s => { s.ticks = tickList(4049110, 4049680, 10); },
        border:{display:false, dash:[3,2]},
        grid:{z:1, tickLength:8, color:c => c.tick && c.tick.value % 50 === 0 ? gridBlue : 'transparent', lineWidth:1.4, tickColor:c => c.tick && c.tick.value % 50 === 0 ? '#222' : 'transparent', tickBorderDash:[], tickWidth:1.2},
        ticks:{autoSkip:false, padding:7, color:'#222', font:{family:font, size:17.3},
          callback: v => yTickLabels.includes(v) ? String(v) : ''}
      }
    },
    plugins: {
      tooltip:{enabled:false},
      title:{display:false},
      legend:{
        position:'chartArea', align:'start',
        title:{display:true, text:legendTitle, position:'center', color:'#222', font:{family:font, size:16}, padding:{top:1, bottom:2}},
        labels:{boxWidth:33, boxHeight:17, padding:2.6, color:'#222', font:{family:font, size:15.7},
          generateLabels: () => [...bandLabels, undefinedLabel].map((text, i) => ({
            text: /\d - /.test(text) ? '\u00a0\u00a0\u00a0' + text : text,
            fillStyle: i < bandColors.length ? bandColors[i] : undefinedColor,
            strokeStyle:'#222', lineWidth:1.5, hidden:false, datasetIndex:0
          }))
        }
      }
    }
  }
});
</script></body></html>
